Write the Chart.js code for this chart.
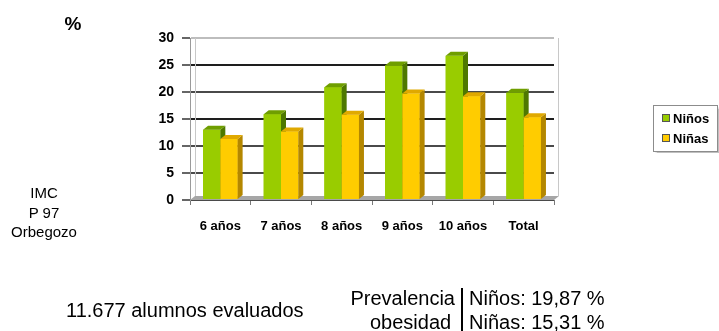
<!DOCTYPE html>
<html>
<head>
<meta charset="utf-8">
<script src="https://cdn.jsdelivr.net/npm/chart.js@4/dist/chart.umd.min.js"></script>
<style>
  body { margin: 0; background: #fff; }
  #wrap { position: relative; width: 719px; height: 331px; overflow: hidden; }
  #c { position: absolute; left: 0; top: 0; }
  .t { position: absolute; font-family: "Liberation Sans", Arial, sans-serif; color: #000; white-space: nowrap; line-height: 1; }
</style>
</head>
<body>
<div id="wrap">
  <canvas id="c" width="719" height="331"></canvas>
  <div class="t" style="left:73px;top:23px;transform:translate(-50%,-50%);font-weight:bold;font-size:19px;">%</div>
  <div class="t" style="left:44px;top:192px;transform:translate(-50%,-50%);font-size:15px;">IMC</div>
  <div class="t" style="left:44px;top:212px;transform:translate(-50%,-50%);font-size:15px;">P 97</div>
  <div class="t" style="left:44px;top:231px;transform:translate(-50%,-50%);font-size:15px;">Orbegozo</div>
  <div class="t" style="left:66px;top:310px;transform:translateY(-50%);font-size:20px;">11.677 alumnos evaluados</div>
  <div class="t" style="right:264px;top:298px;transform:translateY(-50%);font-size:20px;">Prevalencia</div>
  <div class="t" style="left:370px;top:322px;transform:translateY(-50%);font-size:20px;">obesidad</div>
  <div style="position:absolute;left:461px;top:288px;width:2px;height:43px;background:#000;"></div>
  <div class="t" style="left:469px;top:298px;transform:translateY(-50%);font-size:20px;">Niños: 19,87 %</div>
  <div class="t" style="left:469px;top:322px;transform:translateY(-50%);font-size:20px;">Niñas: 15,31 %</div>
</div>
<script>
// data
const categorias = ['6 años', '7 años', '8 años', '9 años', '10 años', 'Total']
const ninos = [13.0, 15.9, 20.9, 24.9, 26.7, 19.87]
const ninas = [11.3, 12.7, 15.8, 19.7, 19.2, 15.31]
const yMax = 30
const yStep = 5

// front / top / side colours of each series
const colNinos = ['#99cc00', '#6f9e00', '#4e7800']
const colNinas = ['#ffcc00', '#e0a900', '#b48700']

const DX = 5
const DY = 4

// draws the floor and the 3d faces of the columns
const bars3d = {
  id: 'bars3d',
  beforeDatasetsDraw(chart) {
    const {ctx, chartArea: a} = chart
    ctx.save()
    ctx.fillStyle = '#a6a6a6'
    ctx.beginPath()
    ctx.moveTo(a.left, a.bottom)
    ctx.lineTo(a.right, a.bottom)
    ctx.lineTo(a.right + DX, a.bottom - DY)
    ctx.lineTo(a.left + DX, a.bottom - DY)
    ctx.closePath()
    ctx.fill()
    ctx.strokeStyle = '#c8c8c8'
    ctx.lineWidth = 1
    ctx.beginPath()
    ctx.moveTo(a.left + DX + 0.5, a.bottom - DY)
    ctx.lineTo(a.left + DX + 0.5, a.top)
    ctx.moveTo(a.right + DX - 0.5, a.bottom - DY)
    ctx.lineTo(a.right + DX - 0.5, a.top)
    ctx.stroke()
    ctx.restore()
  },
  afterDatasetsDraw(chart) {
    const {ctx} = chart
    const n = chart.data.labels.length
    ctx.save()
    for (let i = 0; i < n; i++) {
      chart.data.datasets.forEach((ds, di) => {
        const el = chart.getDatasetMeta(di).data[i]
        const {x, y, base, width} = el.getProps(['x', 'y', 'base', 'width'], true)
        const l = x - width / 2
        const r = x + width / 2
        const c = ds.faces
        ctx.fillStyle = c[0]
        ctx.fillRect(l, y, width, base - y)
        // side
        ctx.fillStyle = c[2]
        ctx.beginPath()
        ctx.moveTo(r, y)
        ctx.lineTo(r + DX, y - DY)
        ctx.lineTo(r + DX, base - DY)
        ctx.lineTo(r, base)
        ctx.closePath()
        ctx.fill()
        // top
        ctx.fillStyle = c[1]
        ctx.beginPath()
        ctx.moveTo(l, y)
        ctx.lineTo(l + DX, y - DY)
        ctx.lineTo(r + DX, y - DY)
        ctx.lineTo(r, y)
        ctx.closePath()
        ctx.fill()
      })
    }
    ctx.restore()
  },
  afterDraw(chart) {
    // legend box on the right
    const {ctx} = chart
    ctx.save()
    ctx.fillStyle = '#fff'
    ctx.strokeStyle = '#8c8c8c'
    ctx.lineWidth = 1
    ctx.shadowColor = 'rgba(0,0,0,0.25)'
    ctx.shadowOffsetX = 1
    ctx.shadowOffsetY = 1
    ctx.shadowBlur = 1
    ctx.fillRect(653.5, 105.5, 64, 46)
    ctx.shadowColor = 'transparent'
    ctx.strokeRect(653.5, 105.5, 64, 46)
    ctx.font = 'bold 13px "Liberation Sans", Arial, sans-serif'
    ctx.textBaseline = 'middle'
    chart.data.datasets.forEach((ds, di) => {
      const yy = 118 + di * 20
      ctx.fillStyle = ds.faces[0]
      ctx.fillRect(662.5, yy - 3.5, 7, 7)
      ctx.strokeStyle = '#555'
      ctx.strokeRect(662.5, yy - 3.5, 7, 7)
      ctx.fillStyle = '#000'
      ctx.fillText(ds.label, 673, yy + 1)
    })
    ctx.restore()
  }
}

const gridColor = (v) => v === 30 ? '#bdbdbd' : (v === 25 || v === 15 ? '#1e1e1e' : '#4a4a4a')

new Chart(document.getElementById('c'), {
  type: 'bar',
  data: {
    labels: categorias,
    datasets: [
      {label: 'Niños', data: ninos, backgroundColor: colNinos[0], faces: colNinos},
      {label: 'Niñas', data: ninas, backgroundColor: colNinas[0], faces: colNinas}
    ]
  },
  options: {
    responsive: false,
    animation: false,
    events: [],
    layout: {padding: {left: 150, right: 165, top: 38, bottom: 91}},
    datasets: {bar: {barPercentage: 1, categoryPercentage: 0.57}},
    plugins: {legend: {display: false}, tooltip: {enabled: false}},
    scales: {
      x: {
        offset: true,
        grid: {drawOnChartArea: false, tickLength: 5, color: '#7a7a7a'},
        border: {display: false},
        ticks: {
          padding: 14,
          color: '#000',
          font: {family: '"Liberation Sans", Arial, sans-serif', size: 13, weight: 'bold'}
        },
        afterFit: (s) => { s.height = 40 }
      },
      y: {
        min: 0,
        max: yMax,
        ticks: {
          stepSize: yStep,
          padding: 8,
          color: '#000',
          font: {family: '"Liberation Sans", Arial, sans-serif', size: 14, weight: 'bold'}
        },
        grid: {
          tickLength: 8,
          lineWidth: 2,
          color: (c) => gridColor(c.tick.value),
          tickColor: '#666'
        },
        border: {display: true, color: '#9a9a9a', width: 1},
        afterFit: (s) => { s.width = 40 }
      }
    }
  },
  plugins: [bars3d]
})
</script>
</body>
</html>
